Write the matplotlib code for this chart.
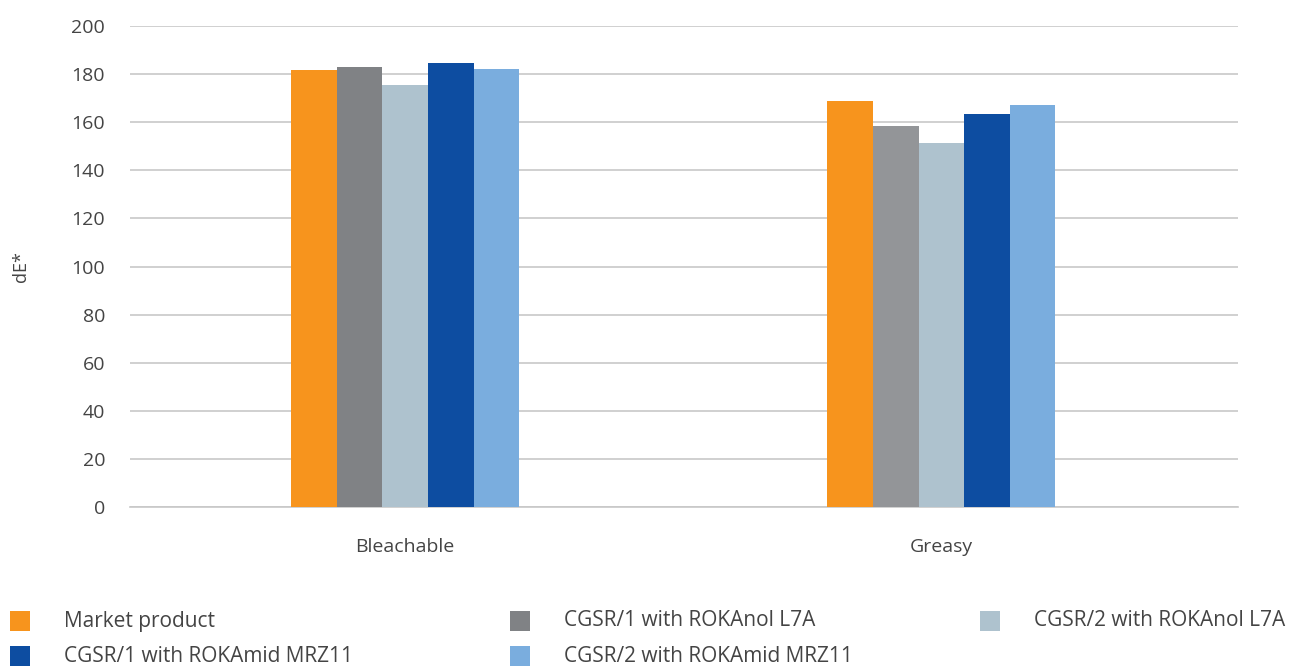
import matplotlib
matplotlib.use("Agg")
import matplotlib.pyplot as plt
from matplotlib.patches import Rectangle
import numpy as np

categories = ["Bleachable", "Greasy"]
series_names = [
    "Market product",
    "CGSR/1 with ROKAnol L7A",
    "CGSR/2 with ROKAnol L7A",
    "CGSR/1 with ROKAmid MRZ11",
    "CGSR/2 with ROKAmid MRZ11",
]
market_product = [181.7, 168.8]
cgsr1_l7a = [183.0, 158.4]
cgsr2_l7a = [175.5, 151.3]
cgsr1_mrz11 = [184.6, 163.4]
cgsr2_mrz11 = [182.1, 167.0]
y_ticks = [0, 20, 40, 60, 80, 100, 120, 140, 160, 180, 200]

colors = ["#F7941D", "#808285", "#AEC2CE", "#0D4DA1", "#7AADDE"]
bar_colors = [["#F7941D"] * 2, ["#808285", "#939598"], ["#AEC2CE"] * 2,
              ["#0D4DA1"] * 2, ["#7AADDE"] * 2]
values = [market_product, cgsr1_l7a, cgsr2_l7a, cgsr1_mrz11, cgsr2_mrz11]

plt.rcParams["font.family"] = ["Open Sans", "DejaVu Sans"]
text_color = "#444444"

fig = plt.figure(figsize=(12.98, 6.66), dpi=100)
ax = fig.add_axes([130 / 1298, 1 - 507 / 666, (1238 - 130) / 1298, (507 - 26) / 666])

x = np.arange(len(categories))
width = 0.085
for i, (vals, cols) in enumerate(zip(values, bar_colors)):
    ax.bar(x + (i - 2) * width, vals, width, color=cols, zorder=3, linewidth=0)

ax.set_xlim(-0.513, 1.553)
ax.set_ylim(0, 200)
ax.set_yticks(y_ticks)
ax.set_xticks(x)
ax.set_xticklabels(categories)
ax.yaxis.grid(True, color="#C8C8C8", linewidth=1.2, zorder=0)
ax.tick_params(axis="both", length=0, labelsize=14, colors=text_color)
ax.tick_params(axis="y", pad=18)
ax.tick_params(axis="x", pad=22)
for s in ["top", "right", "left"]:
    ax.spines[s].set_visible(False)
ax.spines["bottom"].set_color("#C8C8C8")
ax.spines["bottom"].set_linewidth(1.2)
ax.set_ylabel("dE*", fontsize=13, color=text_color)
ax.yaxis.set_label_coords(-(130 - 30) / 1108, 0.5)

# Legend laid out in rows of three
legend_pos = [(10, 621), (510, 621), (980, 621), (10, 656), (510, 656)]
for name, col, (px, py) in zip(series_names, colors, legend_pos):
    fig.patches.append(Rectangle((px / 1298, 1 - (py + 10) / 666), 20 / 1298, 20 / 666,
                                 transform=fig.transFigure, facecolor=col, edgecolor="none"))
    fig.text((px + 54) / 1298, 1 - py / 666, name, fontsize=15, color=text_color,
             va="center", ha="left")

fig.savefig("out.png", dpi=100)
